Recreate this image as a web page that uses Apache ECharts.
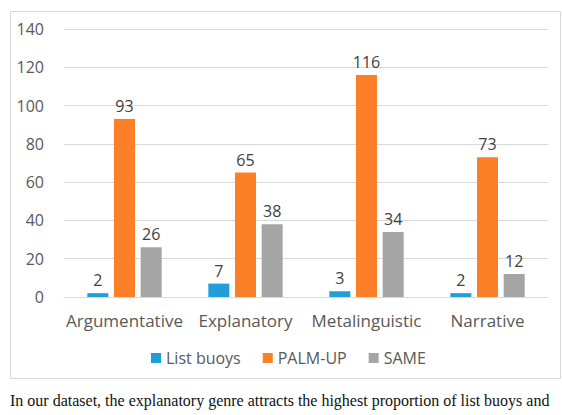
<!DOCTYPE html>
<html>
<head>
<meta charset="utf-8">
<script src="https://cdn.jsdelivr.net/npm/echarts@6/dist/echarts.min.js"></script>
<style>
  html, body { margin: 0; padding: 0; background: #fff; }
  #main { width: 562px; height: 415px; }
</style>
</head>
<body>
<div id="main"></div>
<script>
const genres = ['Argumentative', 'Explanatory', 'Metalinguistic', 'Narrative'];
const listBuoys = [2, 7, 3, 2];
const palmUp = [93, 65, 116, 73];
const same = [26, 38, 34, 12];
const caption = 'In our dataset, the explanatory genre attracts the highest proportion of list buoys and';

const chart = echarts.init(document.getElementById('main'), null, { renderer: 'svg' });

const labelStyle = { show: true, position: 'top', distance: 5, fontSize: 16, color: '#404040', fontFamily: 'Open Sans' };

const makeSeries = (name, data, color) => ({
  name: name,
  type: 'bar',
  data: data,
  barWidth: 21,
  barGap: '27%',
  itemStyle: { color: color },
  label: labelStyle
});

const option = {
  animation: false,
  textStyle: { fontFamily: 'Open Sans' },
  grid: { left: 64, right: 14, top: 29, bottom: 118 },
  legend: {
    left: 146,
    top: 345,
    itemWidth: 10,
    itemHeight: 10,
    itemGap: 22,
    icon: 'rect',
    textStyle: { fontSize: 16, color: '#595959', fontFamily: 'Open Sans' },
    data: ['List buoys', 'PALM-UP', 'SAME']
  },
  xAxis: {
    type: 'category',
    data: genres,
    axisLine: { lineStyle: { color: '#d9d9d9' } },
    axisTick: { show: false },
    axisLabel: { fontSize: 17, color: '#595959', margin: 15, interval: 0 }
  },
  yAxis: {
    type: 'value',
    min: 0,
    max: 140,
    interval: 20,
    axisLine: { show: false },
    axisTick: { show: false },
    splitLine: { lineStyle: { color: '#d9d9d9' } },
    axisLabel: { fontSize: 16, color: '#595959', margin: 20 }
  },
  graphic: [
    {
      type: 'rect',
      shape: { x: 10.5, y: 11.5, width: 550, height: 367 },
      style: { fill: 'none', stroke: '#d9d9d9', lineWidth: 1 },
      silent: true,
      z: -1
    },
    {
      type: 'text',
      left: 10,
      top: 392,
      style: { text: caption, fontSize: 16, fill: '#111', fontFamily: 'Liberation Serif' }
    }
  ],
  series: [
    makeSeries('List buoys', listBuoys, '#1f9ed8'),
    makeSeries('PALM-UP', palmUp, '#fd7f27'),
    makeSeries('SAME', same, '#a5a5a5')
  ]
};

chart.setOption(option);
</script>
</body>
</html>
